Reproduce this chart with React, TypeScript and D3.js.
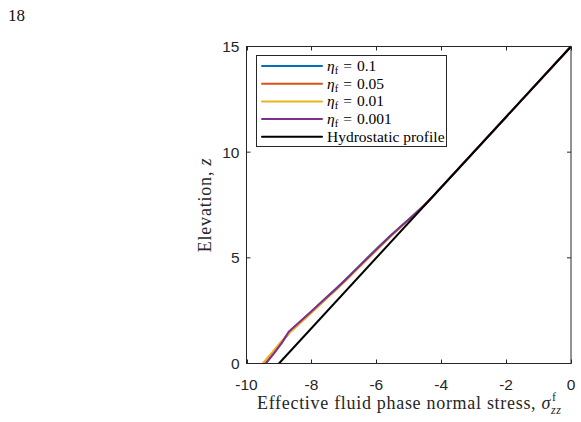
import * as d3 from "d3";
import { useEffect, useRef } from "react";

// elevation samples shared by the four viscosity runs
const elevation = [0, 0.5, 1, 1.5, 2, 2.5, 3, 3.5, 4, 4.5, 5, 5.5, 6, 6.5, 7, 7.5, 8, 15];

const stressEta01 = [-9.44, -9.17, -8.92, -8.66, -8.32, -7.97, -7.62, -7.27, -6.93, -6.6, -6.27, -5.94, -5.6, -5.24, -4.87, -4.52, -4.2, 0];
const stressEta005 = [-9.48, -9.2, -8.94, -8.66, -8.3, -7.95, -7.6, -7.25, -6.91, -6.58, -6.25, -5.92, -5.58, -5.22, -4.86, -4.51, -4.2, 0];
const stressEta001 = [-9.5, -9.22, -8.95, -8.64, -8.28, -7.93, -7.58, -7.23, -6.89, -6.56, -6.23, -5.9, -5.57, -5.21, -4.85, -4.51, -4.2, 0];
const stressEta0001 = [-9.4, -9.14, -8.9, -8.7, -8.34, -7.98, -7.62, -7.26, -6.92, -6.59, -6.26, -5.93, -5.59, -5.23, -4.86, -4.51, -4.2, 0];

const etaValues = ["0.1", "0.05", "0.01", "0.001"];
const seriesColors = ["#0072BD", "#D95319", "#EDB120", "#7E2F8E"];

const hydroElevation = [0, 15];
const hydroStress = [-9, 0];

const xTicks = [-10, -8, -6, -4, -2, 0];
const yTicks = [0, 5, 10, 15];

export default function App() {
  const svgRef = useRef<SVGSVGElement | null>(null);

  useEffect(() => {
    if (!svgRef.current) return;
    const svg = d3.select(svgRef.current);
    svg.selectAll("*").remove();

    const width = 581;
    const height = 422;
    const box = { left: 246.5, right: 571, top: 46.5, bottom: 363.5 };
    const axisColor = "#262626";
    const sans = "'Liberation Sans', Arial, sans-serif";
    const serif = "'Liberation Serif', 'Times New Roman', serif";

    svg.attr("width", width).attr("height", height);

    const x = d3.scaleLinear().domain([-10, 0]).range([box.left, box.right]);
    const y = d3.scaleLinear().domain([0, 15]).range([box.bottom, box.top]);

    // page number
    svg
      .append("text")
      .attr("x", 8)
      .attr("y", 21)
      .attr("font-family", serif)
      .attr("font-size", 17)
      .attr("fill", "#111")
      .text("18");

    const line = d3
      .line<[number, number]>()
      .x((d) => x(d[0]))
      .y((d) => y(d[1]));

    const runs = [stressEta01, stressEta005, stressEta001, stressEta0001];
    runs.forEach((stress, i) => {
      const pts = stress.map((s, k) => [s, elevation[k]] as [number, number]);
      svg
        .append("path")
        .datum(pts)
        .attr("fill", "none")
        .attr("stroke", seriesColors[i])
        .attr("stroke-width", 2)
        .attr("stroke-linejoin", "round")
        .attr("d", line);
    });

    const hydro = hydroStress.map((s, k) => [s, hydroElevation[k]] as [number, number]);
    svg
      .append("path")
      .datum(hydro)
      .attr("fill", "none")
      .attr("stroke", "#000")
      .attr("stroke-width", 2)
      .attr("d", line);

    // axes box with inward ticks on all four sides
    const frame = svg.append("g").attr("stroke", axisColor).attr("stroke-width", 1).attr("fill", "none");
    frame
      .append("rect")
      .attr("x", box.left)
      .attr("y", box.top)
      .attr("width", box.right - box.left)
      .attr("height", box.bottom - box.top);

    const tickLen = 4;
    xTicks.forEach((t) => {
      const px = Math.round(x(t)) + 0.5;
      frame.append("line").attr("x1", px).attr("x2", px).attr("y1", box.bottom).attr("y2", box.bottom - tickLen);
      frame.append("line").attr("x1", px).attr("x2", px).attr("y1", box.top).attr("y2", box.top + tickLen);
    });
    yTicks.forEach((t) => {
      const py = y(t);
      frame.append("line").attr("x1", box.left).attr("x2", box.left + tickLen).attr("y1", py).attr("y2", py);
      frame.append("line").attr("x1", box.right).attr("x2", box.right - tickLen).attr("y1", py).attr("y2", py);
    });

    svg
      .append("g")
      .selectAll("text")
      .data(xTicks)
      .join("text")
      .attr("x", (d) => x(d))
      .attr("y", box.bottom + 26)
      .attr("text-anchor", "middle")
      .attr("font-family", sans)
      .attr("font-size", 15.5)
      .attr("fill", axisColor)
      .text((d) => String(d));

    svg
      .append("g")
      .selectAll("text")
      .data(yTicks)
      .join("text")
      .attr("x", box.left - 7)
      .attr("y", (d) => y(d) + 5.5)
      .attr("text-anchor", "end")
      .attr("font-family", sans)
      .attr("font-size", 15.5)
      .attr("fill", axisColor)
      .text((d) => String(d));

    // y label
    const yLabel = svg
      .append("text")
      .attr("transform", `translate(211,${(box.top + box.bottom) / 2}) rotate(-90)`)
      .attr("text-anchor", "middle")
      .attr("font-family", serif)
      .attr("font-size", 18)
      .attr("letter-spacing", 0.8)
      .attr("fill", "#262626");
    yLabel.append("tspan").text("Elevation, ");
    yLabel.append("tspan").attr("font-style", "italic").text("z");

    // x label: σ with stacked super/subscript
    const labelX = 257;
    const xl = svg
      .append("text")
      .attr("x", labelX)
      .attr("y", 409)
      .attr("font-family", serif)
      .attr("font-size", 18)
      .attr("letter-spacing", 0.7)
      .attr("fill", "#262626");
    xl.append("tspan").text("Effective fluid phase normal stress, ");
    xl.append("tspan").attr("font-style", "italic").text("σ");
    const xlEnd = labelX + (xl.node() as SVGTextElement).getComputedTextLength();
    svg
      .append("text")
      .attr("x", xlEnd + 1)
      .attr("y", 401)
      .attr("font-family", serif)
      .attr("font-size", 12)
      .attr("fill", "#262626")
      .text("f");
    svg
      .append("text")
      .attr("x", xlEnd)
      .attr("y", 414)
      .attr("font-family", serif)
      .attr("font-style", "italic")
      .attr("font-size", 12)
      .attr("letter-spacing", 0.5)
      .attr("fill", "#262626")
      .text("zz");

    // legend
    const lg = svg.append("g");
    lg.append("rect")
      .attr("x", 256.5)
      .attr("y", 55.5)
      .attr("width", 190)
      .attr("height", 91)
      .attr("fill", "#fff")
      .attr("stroke", axisColor)
      .attr("stroke-width", 1);

    const rowY = (i: number) => 66 + i * 17.7;
    const entries = etaValues.map((v, i) => ({ color: seriesColors[i], value: v }));
    entries.forEach((e, i) => {
      const ry = rowY(i);
      lg.append("line")
        .attr("x1", 262)
        .attr("x2", 322)
        .attr("y1", ry)
        .attr("y2", ry)
        .attr("stroke", e.color)
        .attr("stroke-width", 2)
        .attr("stroke-linecap", "round");
      const t = lg
        .append("text")
        .attr("x", 327)
        .attr("y", ry + 5)
        .attr("font-family", serif)
        .attr("font-size", 15.5)
        .attr("fill", "#000");
      t.append("tspan").attr("font-style", "italic").text("η");
      t.append("tspan").attr("font-size", 10.5).attr("dy", 3).text("f");
      t.append("tspan").attr("dy", -3).attr("dx", 5).text("=");
      t.append("tspan").attr("dx", 5).text(e.value);
    });
    const hy = rowY(4);
    lg.append("line")
      .attr("x1", 262)
      .attr("x2", 322)
      .attr("y1", hy)
      .attr("y2", hy)
      .attr("stroke", "#000")
      .attr("stroke-width", 2)
      .attr("stroke-linecap", "round");
    lg.append("text")
      .attr("x", 327)
      .attr("y", hy + 5)
      .attr("font-family", serif)
      .attr("font-size", 15.5)
      .attr("fill", "#000")
      .text("Hydrostatic profile");
  }, []);

  return (
    <svg
      ref={svgRef}
      style={{ position: "absolute", left: 0, top: 0, background: "#fff" }}
      aria-label="Effective fluid phase normal stress against elevation"
    />
  );
}
